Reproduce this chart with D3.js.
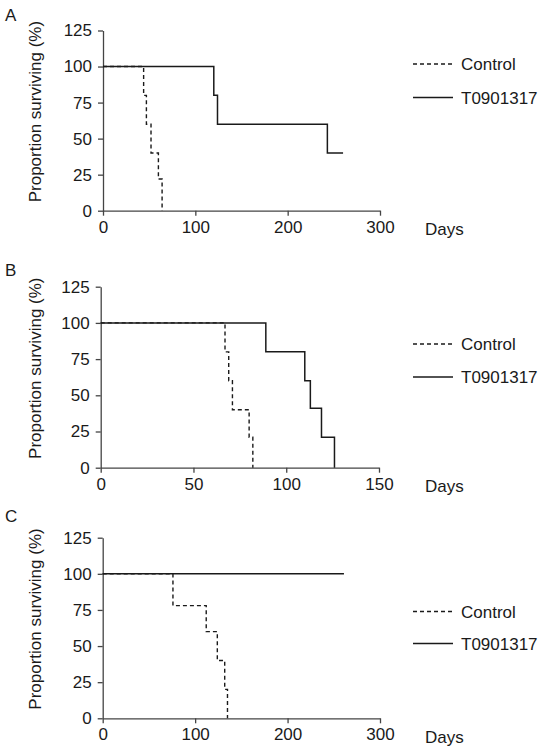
<!DOCTYPE html>
<html>
<head>
<meta charset="utf-8">
<script src="https://cdn.jsdelivr.net/npm/d3@7"></script>
<style>
  html, body { margin: 0; padding: 0; background: #fff; }
  svg { display: block; font-family: "Liberation Sans", Arial, sans-serif; }
</style>
</head>
<body>
<svg id="chart" width="542" height="753"></svg>
<script>
// ---- Data ----
const panelLabels = ["A", "B", "C"];
const seriesNames = ["Control", "T0901317"];
const yTicks = [0, 25, 50, 75, 100, 125];
const xTicksA = [0, 100, 200, 300];
const xTicksB = [0, 50, 100, 150];
const xTicksC = [0, 100, 200, 300];

// Panel A: [day, % surviving]
const controlA = [[0, 100], [44, 80], [47, 60], [52, 40], [60, 22], [64, 0]];
const treatedA = [[0, 100], [120, 80], [124, 60], [243, 40], [260, 40]];
// Panel B
const controlB = [[0, 100], [67, 80], [69, 60], [71, 40], [80, 21], [82, 0]];
const treatedB = [[0, 100], [89, 80], [110, 60], [113, 41], [119, 21], [126, 0]];
// Panel C
const controlC = [[0, 100], [76, 78], [112, 60], [124, 40], [132, 20], [135, 0]];
const treatedC = [[0, 100], [261, 100]];

const svg = d3.select("#chart");
const ink = "#1a1a1a";
const axisInk = "#444";
const fs = 17;

const panels = [
  { label: panelLabels[0], xMax: 300, xTicks: xTicksA, control: controlA, treated: treatedA,
    x0: 103, x1: 380, yBottom: 210.7, yTop: 30.5, labelY: 21, legY: [64, 97.5] },
  { label: panelLabels[1], xMax: 150, xTicks: xTicksB, control: controlB, treated: treatedB,
    x0: 100.7, x1: 379, yBottom: 467.7, yTop: 286.7, labelY: 276, legY: [344, 377] },
  { label: panelLabels[2], xMax: 300, xTicks: xTicksC, control: controlC, treated: treatedC,
    x0: 102.7, x1: 380, yBottom: 718.3, yTop: 537.7, labelY: 522, legY: [611.5, 643.5] }
];

panels.forEach(p => {
  const g = svg.append("g");
  const x = d3.scaleLinear().domain([0, p.xMax]).range([p.x0, p.x1]);
  const y = d3.scaleLinear().domain([0, 125]).range([p.yBottom, p.yTop]);

  // panel letter
  g.append("text").attr("x", 5).attr("y", p.labelY)
    .attr("font-size", 17).attr("fill", ink).text(p.label);

  // x axis
  const xa = g.append("g").attr("transform", `translate(0,${p.yBottom})`)
    .call(d3.axisBottom(x).tickValues(p.xTicks).tickSize(5).tickSizeOuter(0).tickPadding(5));
  // y axis
  const ya = g.append("g").attr("transform", `translate(${p.x0},0)`)
    .call(d3.axisLeft(y).tickValues(yTicks).tickSize(5).tickSizeOuter(0).tickPadding(6));
  [xa, ya].forEach(a => {
    a.select(".domain").attr("stroke", axisInk).attr("stroke-width", 1.3);
    a.selectAll(".tick line").attr("stroke", axisInk).attr("stroke-width", 1.3);
    a.selectAll(".tick text").attr("font-size", fs).attr("fill", ink)
      .attr("font-family", "'Liberation Sans', Arial, sans-serif");
  });

  // axis titles
  g.append("text").attr("x", 425).attr("y", p.yBottom + 24.5)
    .attr("font-size", fs).attr("fill", ink).text("Days");
  const cy = (p.yBottom + p.yTop) / 2 - 9;
  g.append("text").attr("transform", `translate(41,${cy}) rotate(-90)`)
    .attr("text-anchor", "middle").attr("font-size", fs).attr("fill", ink)
    .text("Proportion surviving (%)");

  // survival step curves
  const line = d3.line().x(d => x(d[0])).y(d => y(d[1])).curve(d3.curveStepAfter);
  g.append("path").datum(p.treated).attr("d", line)
    .attr("fill", "none").attr("stroke", ink).attr("stroke-width", 1.5);
  g.append("path").datum(p.control).attr("d", line)
    .attr("fill", "none").attr("stroke", ink).attr("stroke-width", 1.4)
    .attr("stroke-dasharray", "4,3");

  // legend
  seriesNames.forEach((name, i) => {
    const ly = p.legY[i];
    g.append("line").attr("x1", 413).attr("x2", 453).attr("y1", ly).attr("y2", ly)
      .attr("stroke", ink).attr("stroke-width", 1.4)
      .attr("stroke-dasharray", i === 0 ? "4,3" : null);
    g.append("text").attr("x", 461).attr("y", ly + 6)
      .attr("font-size", fs).attr("fill", ink).text(name);
  });
});
</script>
</body>
</html>
